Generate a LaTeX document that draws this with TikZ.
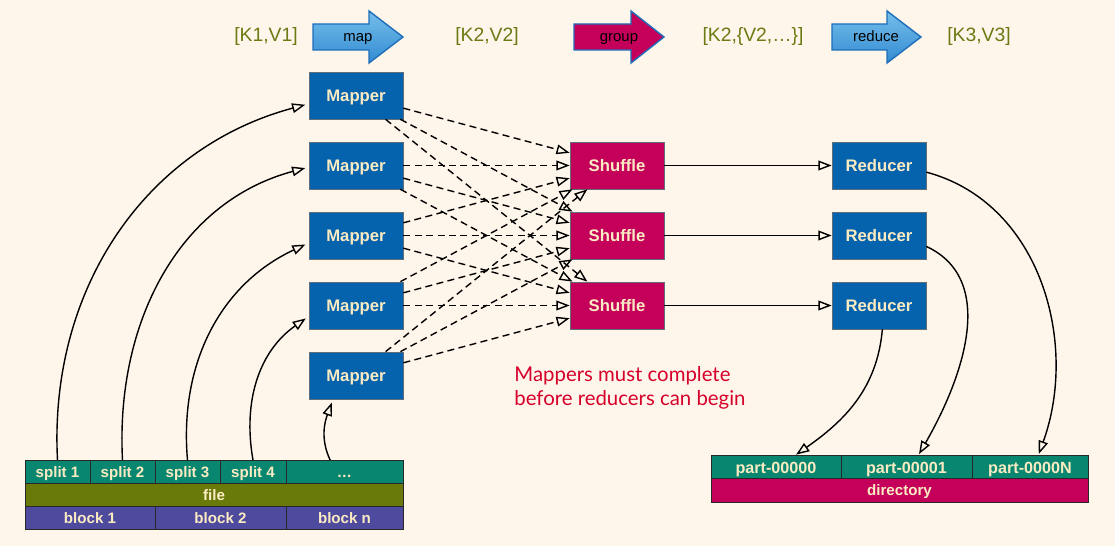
\documentclass[tikz,border=0pt]{standalone}
\usepackage{fontspec}
\setmainfont{Liberation Sans}
\newfontfamily\notefont{Lato}
\usetikzlibrary{arrows.meta}
\definecolor{paper}{RGB}{254,246,235}
\definecolor{mapblue}{RGB}{5,99,174}
\definecolor{shufred}{RGB}{197,0,90}
\definecolor{cream}{RGB}{251,235,195}
\definecolor{boxgray}{RGB}{95,110,120}
\definecolor{splitteal}{RGB}{8,134,112}
\definecolor{fileolive}{RGB}{106,122,10}
\definecolor{blockpurple}{RGB}{78,74,158}
\definecolor{cellline}{RGB}{40,40,40}
\definecolor{labelolive}{RGB}{107,122,18}
\definecolor{notered}{RGB}{214,0,43}
\definecolor{arrowtop}{RGB}{118,190,235}
\definecolor{arrowbot}{RGB}{50,140,210}
\definecolor{arrowline}{RGB}{30,110,185}
\tikzset{
  stage/.style={draw=boxgray, minimum width=1.88cm, minimum height=0.94cm, text=cream, text height=6.8pt, text depth=0pt, font=\bfseries\fontsize{9.5}{11}\selectfont},
  mapper/.style={stage, fill=mapblue},
  shuffle/.style={stage, fill=shufred},
  cell/.style={draw=cellline, text=cream, minimum height=0.466cm, inner sep=0pt, outer sep=0pt, text height=6.2pt, text depth=0pt, font=\bfseries\fontsize{8.6}{10}\selectfont},
  kv/.style={text=labelolive, font=\fontsize{11}{13}\selectfont},
  opentip/.style={-{Triangle[open,length=7.5pt,width=5.5pt]}, line width=0.8pt},
  flow/.style={opentip, dash pattern=on 4pt off 2.5pt},
  bigarrow/.style={draw=arrowline, line width=0.8pt},
  stepname/.style={font=\fontsize{8.5}{10}\selectfont, text height=6pt, text depth=1.5pt},
}
\begin{document}
\begin{tikzpicture}[x=0.02cm, y=0.02cm]
        \useasboundingbox (0,0) rectangle (1115,546);
        \fill[paper] (0,0) rectangle (1115,546);

        \shade[bigarrow, top color=arrowtop, bottom color=arrowbot] (313,496) -- (369,496) -- (369,483) -- (403,509) -- (369,535) -- (369,522) -- (313,522) -- cycle;
        \filldraw[bigarrow, fill=shufred] (574,496) -- (631,496) -- (631,483) -- (664,509) -- (631,535) -- (631,522) -- (574,522) -- cycle;
        \shade[bigarrow, top color=arrowtop, bottom color=arrowbot] (832,496) -- (887,496) -- (887,483) -- (921,509) -- (887,535) -- (887,522) -- (832,522) -- cycle;

        \node[stepname] (map) at (358,508) {map};
        \node[stepname] (group) at (619,508) {group};
        \node[stepname] (reduce) at (876,508) {reduce};

        \node[kv] (KV1) at (266,509) {[K1,V1]};
        \node[kv] (KV2) at (487,509) {[K2,V2]};
        \node[kv] (KVL) at (753,509) {[K2,\{V2,…\}]};
        \node[kv] (KV3) at (979,509) {[K3,V3]};

        \node[mapper] (M1) at (356,450.5) {Mapper};
        \node[mapper] (M2) at (356,380.5) {Mapper};
        \node[mapper] (M3) at (356,310.5) {Mapper};
        \node[mapper] (M4) at (356,240.5) {Mapper};
        \node[mapper] (M5) at (356,170.5) {Mapper};

        \node[shuffle] (S1) at (617,380.5) {Shuffle};
        \node[shuffle] (S2) at (617,310.5) {Shuffle};
        \node[shuffle] (S3) at (617,240.5) {Shuffle};

        \node[mapper] (R1) at (879,380.5) {Reducer};
        \node[mapper] (R2) at (879,310.5) {Reducer};
        \node[mapper] (R3) at (879,240.5) {Reducer};

        \node[cell, fill=splitteal, minimum width=1.30cm] (P1) at (57.5,74.3) {split 1};
        \node[cell, fill=splitteal, minimum width=1.30cm] (P2) at (122.5,74.3) {split 2};
        \node[cell, fill=splitteal, minimum width=1.30cm] (P3) at (187.5,74.3) {split 3};
        \node[cell, fill=splitteal, minimum width=1.32cm] (P4) at (253,74.3) {split 4};
        \node[cell, fill=splitteal, minimum width=2.34cm] (PX) at (344.5,74.3) {…};
        \node[cell, fill=fileolive, minimum width=7.56cm] (F) at (214,51.2) {file};
        \node[cell, fill=blockpurple, minimum width=2.60cm] (B1) at (90,28.2) {block 1};
        \node[cell, fill=blockpurple, minimum width=2.62cm] (B2) at (220.5,28.2) {block 2};
        \node[cell, fill=blockpurple, minimum width=2.34cm] (BN) at (344.5,28.2) {block n};

        \node[cell, fill=splitteal, minimum width=2.60cm, text height=6.6pt, font=\bfseries\fontsize{9.2}{10}\selectfont] (O1) at (776,78.7) {part-00000};
        \node[cell, fill=splitteal, minimum width=2.62cm, text height=6.6pt, font=\bfseries\fontsize{9.2}{10}\selectfont] (O2) at (906.5,78.7) {part-00001};
        \node[cell, fill=splitteal, minimum width=2.32cm, text height=6.6pt, font=\bfseries\fontsize{9.2}{10}\selectfont] (ON) at (1030,78.7) {part-0000N};
        \node[cell, fill=shufred, minimum width=7.54cm] (DIR) at (899.5,55.5) {directory};

        \node[anchor=north west, align=left, inner sep=0pt, text=notered, font=\notefont\fontsize{11.6}{14}\selectfont] (note) at (514,180) {Mappers must complete\\before reducers can begin};

        \draw[opentip, shorten >=2pt] (P1.north) to [out=93, in=195] (M1.190);
        \draw[opentip, shorten >=2pt] (P2.north) to [out=93, in=195] (M2.182);
        \draw[opentip, shorten >=2pt] (P3.north) to [out=95, in=205] (M3.189);
        \draw[opentip, shorten >=2pt] (P4.north) to [out=100, in=215] (M4.193);
        \draw[opentip, shorten >=2pt] (PX.141) to [out=115, in=250] (M5.226);

        \draw[flow] (M1) -- (S1);
        \draw[flow] (M1) -- (S2);
        \draw[flow] (M1) -- (S3);
        \draw[flow] (M2) -- (S1);
        \draw[flow] (M2) -- (S2);
        \draw[flow] (M2) -- (S3);
        \draw[flow] (M3) -- (S1);
        \draw[flow] (M3) -- (S2);
        \draw[flow] (M3) -- (S3);
        \draw[flow] (M4) -- (S1);
        \draw[flow] (M4) -- (S2);
        \draw[flow] (M4) -- (S3);
        \draw[flow] (M5) -- (S1);
        \draw[flow] (M5) -- (S2);
        \draw[flow] (M5) -- (S3);

        \draw[opentip] (S1) -- (R1);
        \draw[opentip] (S2) -- (R2);
        \draw[opentip] (S3) -- (R3);

        \draw[opentip, shorten >=1pt] (R1.352) to [out=-15, in=70] (ON.55);
        \draw[opentip, shorten >=1pt] (R2.347) to [out=-25, in=60] (O2.45);
        \draw[opentip, shorten >=1pt] (R3.278) to [out=-95, in=35] (O1.32);
    \end{tikzpicture}
\end{document}
